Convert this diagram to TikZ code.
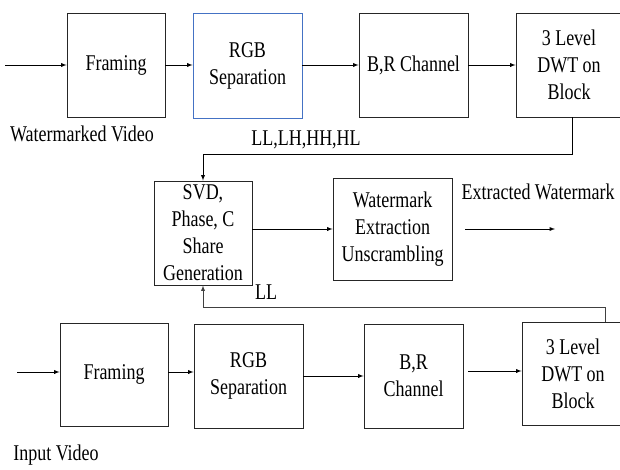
\documentclass[tikz,border=0pt]{standalone}
\usepackage{fontspec}
\setmainfont[FakeStretch=0.8]{Liberation Serif}
\usepackage{tikz}
\usetikzlibrary{positioning}

\definecolor{boxblue}{RGB}{68,114,196}

\tikzset{
	block/.style={draw=black!85, line width=0.9pt, rectangle, inner sep=0pt, align=center,
		font=\fontsize{22.5}{27}\selectfont},
	flow/.style={line width=0.9pt, -latex},
	lbl/.style={inner sep=0pt, font=\fontsize{22.5}{26}\selectfont}
}

\begin{document}
\begin{tikzpicture}[x=1pt,y=-1pt]
\useasboundingbox (0,0) rectangle (620,469);
\clip (0,0) rectangle (620,469);
%WATERMARKED VIDEO ROW
	%blocks
	\node[block, minimum width=98pt, minimum height=104pt] (frameA) at (116,65) {Framing};
	\node[block, draw=boxblue, minimum width=109pt, minimum height=105pt] (rgbA) at (247.5,65.5) {RGB\\Separation};
	\node[block, minimum width=109pt, minimum height=104pt] (brA) at (413.5,65) {B,R Channel};
	\node[block, minimum width=106pt, minimum height=104pt] (dwtA) at (569,65) {3 Level\\DWT on\\Block};
	%arrows
	\coordinate (inA) at (5,65);
	\draw[flow] (inA) -- (frameA);
	\draw[flow] (frameA) -- (rgbA.west |- frameA);
	\draw[flow] (rgbA.east |- frameA) -- (brA);
	\draw[flow] (brA) -- (dwtA);
	\node[lbl] (wmvideo) at (82,134) {Watermarked Video};
%EXTRACTION ROW
	\node[block, minimum width=98pt, minimum height=104pt] (svd) at (203,233) {SVD,\\Phase, C\\Share\\Generation};
	\node[block, minimum width=119pt, minimum height=102pt] (wext) at (392.5,229) {Watermark\\Extraction\\Unscrambling};
	\draw[flow] (svd.east |- wext) -- (wext);
	\node[lbl] (extwm) at (538,192) {Extracted Watermark};
	\coordinate (wmstart) at (465,229);
	\coordinate (wmout) at (555,229);
	\draw[flow] (wmstart) -- (wmout);
	%feedback from top
	\coordinate (dwtAdown) at (572,154);
	\draw[flow] (dwtAdown |- dwtA.south) -- (dwtAdown) -- (dwtAdown -| svd) -- (svd.north);
	\node[lbl] (subbands) at (306,140) {LL,LH,HH,HL};
	%feedback from bottom
	\coordinate (dwtBup) at (605,307);
	\node[lbl] (llband) at (266,292) {LL};
%INPUT VIDEO ROW
	\node[block, minimum width=108pt, minimum height=103pt] (frameB) at (114,374.5) {Framing};
	\node[block, minimum width=109pt, minimum height=104pt] (rgbB) at (248.5,376) {RGB\\Separation};
	\node[block, minimum width=99pt, minimum height=104pt] (brB) at (413.5,376) {B,R\\Channel};
	\node[block, minimum width=102pt, minimum height=103pt] (dwtB) at (573,373.5) {3 Level\\DWT on\\Block};
	\coordinate (inB) at (17,372);
	\draw[flow] (inB) -- (inB -| frameB.west);
	\draw[flow] (frameB.east |- inB) -- (rgbB.west |- inB);
	\draw[flow] (rgbB) -- (brB);
	\coordinate (brBout) at (468,371);
	\draw[flow] (brBout) -- (dwtB.west |- brBout);
	\draw[flow, black!75] (dwtB.north -| dwtBup) -- (dwtBup) -- (dwtBup -| svd) -- (svd.south);
	\node[lbl] (invideo) at (56,455) {Input Video};
\end{tikzpicture}
\end{document}
